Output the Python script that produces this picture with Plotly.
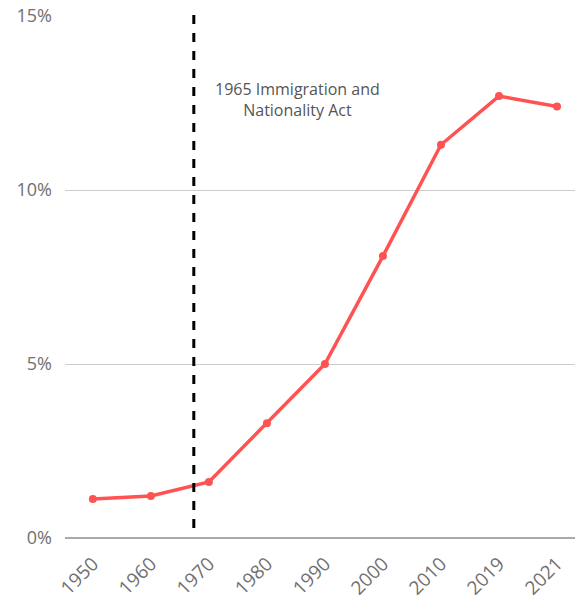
import plotly.graph_objects as go

years = ["1950", "1960", "1970", "1980", "1990", "2000", "2010", "2019", "2021"]
share_pct = [1.12, 1.21, 1.61, 3.3, 5.0, 8.1, 11.3, 12.7, 12.4]
y_ticks = [0, 5, 10, 15]
y_tick_labels = ["0%", "5%", "10%", "15%"]
event_label = "1965 Immigration and<br>Nationality Act"
event_pos = 1.74  # category-index position of the 1965 marker line

x_idx = list(range(len(years)))

fig = go.Figure()
fig.add_trace(go.Scatter(
    x=x_idx, y=share_pct, mode="lines+markers",
    line=dict(color="#FF5252", width=3.5),
    marker=dict(color="#FF5252", size=8),
    hoverinfo="skip", showlegend=False,
))

fig.add_shape(type="line", xref="x", yref="paper",
              x0=event_pos, x1=event_pos, y0=0.019, y1=1.011,
              line=dict(color="black", width=3, dash="dash"))
fig.add_annotation(x=3.53, y=12.6, xref="x", yref="y", text=event_label,
                   showarrow=False, align="center",
                   font=dict(family="Open Sans", size=16, color="#555555"))

fig.update_layout(
    width=575, height=599,
    margin=dict(l=65, r=0, t=16, b=61),
    paper_bgcolor="white", plot_bgcolor="white",
    font=dict(family="Open Sans", color="#666666"),
    xaxis=dict(tickmode="array", tickvals=x_idx, ticktext=years,
               range=[-0.48, 8.31], tickangle=-45, showgrid=False,
               zeroline=False, showline=False, ticks="",
               ticklabelstandoff=10, automargin=False,
               tickfont=dict(size=19, color="#707070")),
    yaxis=dict(tickmode="array", tickvals=y_ticks, ticktext=y_tick_labels,
               range=[0, 15], showgrid=True, gridcolor="#cccccc", gridwidth=1,
               zeroline=True, zerolinecolor="#aaaaaa", zerolinewidth=2,
               ticks="", ticklabelstandoff=12, automargin=False,
               tickfont=dict(size=18, color="#707070")),
)

fig.write_html("out.html")
